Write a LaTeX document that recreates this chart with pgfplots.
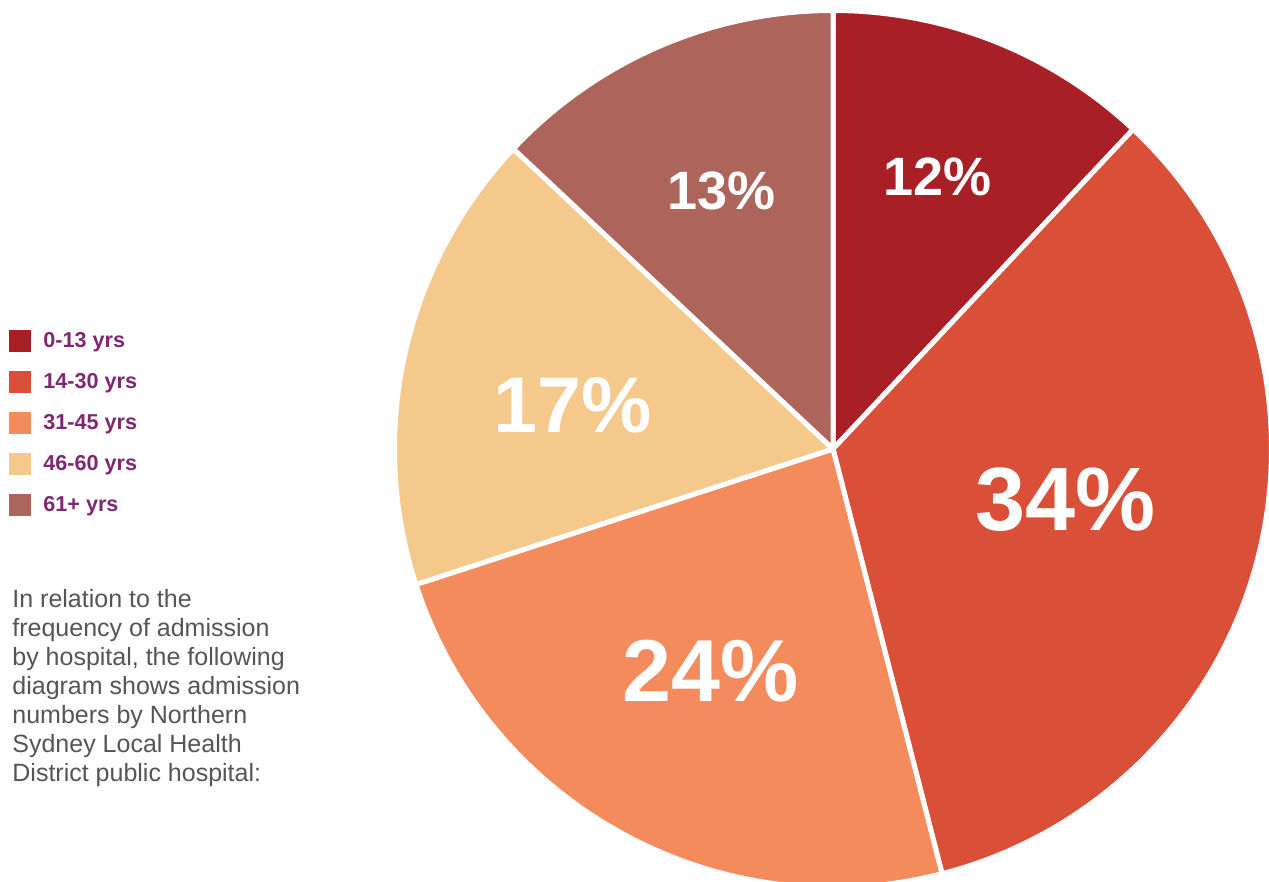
\documentclass[border=0pt]{standalone}
\usepackage{pgfplots}
\usepackage{pgfplotstable}
\pgfplotsset{compat=1.18}
\usepackage{fontspec}
\setmainfont{Liberation Sans}

\definecolor{c0}{HTML}{A82025}
\definecolor{c1}{HTML}{D94F37}
\definecolor{c2}{HTML}{F48B5D}
\definecolor{c3}{HTML}{F5C98C}
\definecolor{c4}{HTML}{AC645B}
\definecolor{legtext}{HTML}{7F2771}
\definecolor{bodytext}{HTML}{555555}

% share of admissions by age group; label radius (px), angle offset, size (pt)
\pgfplotstableread[col sep=comma]{
group,value,lr,ld,fs
0-13 yrs,12,291,0.6,27
14-30 yrs,34,238,2.2,45
31-45 yrs,24,254,0,44
46-60 yrs,17,264,3,39.5
61+ yrs,13,281,0,27
}\agedata

% cumulative wedge angles, clockwise from the top
\gdef\runang{90}
\foreach \i in {0,...,4}{%
  \pgfplotstablegetelem{\i}{value}\of\agedata
  \expandafter\xdef\csname val\i\endcsname{\pgfplotsretval}%
  \pgfmathsetmacro\endang{\runang-3.6*\pgfplotsretval}%
  \pgfplotstablegetelem{\i}{ld}\of\agedata
  \pgfmathsetmacro\midang{(\runang+\endang)/2+\pgfplotsretval}%
  \expandafter\xdef\csname sa\i\endcsname{\runang}%
  \expandafter\xdef\csname ea\i\endcsname{\endang}%
  \expandafter\xdef\csname ma\i\endcsname{\midang}%
  \xdef\runang{\endang}%
  \pgfplotstablegetelem{\i}{lr}\of\agedata
  \expandafter\xdef\csname lr\i\endcsname{\pgfplotsretval}%
  \pgfplotstablegetelem{\i}{fs}\of\agedata
  \expandafter\xdef\csname fs\i\endcsname{\pgfplotsretval}%
  \pgfplotstablegetelem{\i}{group}\of\agedata
  \expandafter\xdef\csname gr\i\endcsname{\pgfplotsretval}%
}

\def\cx{833}
\def\cy{433}
\def\rad{219.25pt}

\begin{document}
\begin{tikzpicture}
\begin{axis}[
  name=ax,
  width=634.5pt, height=441pt,
  scale only axis,
  hide axis,
  xmin=0, xmax=1269,
  ymin=0, ymax=882,
]
\pgfplotsinvokeforeach{0,...,4}{
  \fill[c#1, draw=white, line width=2.5pt, line join=round]
    (axis cs:\cx,\cy) -- ++(\csname sa#1\endcsname:\rad)
    arc[start angle=\csname sa#1\endcsname, end angle=\csname ea#1\endcsname, radius=\rad]
    -- cycle;
}
\pgfplotsinvokeforeach{0,...,4}{
  \node[text=white, font=\bfseries\fontsize{\csname fs#1\endcsname}{\csname fs#1\endcsname}\selectfont]
    at (axis cs:{\cx+\csname lr#1\endcsname*cos(\csname ma#1\endcsname)},{\cy+\csname lr#1\endcsname*sin(\csname ma#1\endcsname)})
    {\csname val#1\endcsname\%};
}
% legend
\pgfplotsinvokeforeach{0,...,4}{
  \fill[c#1] (axis cs:9,{882-330-41*#1}) rectangle (axis cs:31,{882-352-41*#1});
  \node[anchor=west, text=legtext, font=\bfseries\fontsize{10.8}{12}\selectfont, inner sep=0pt]
    at (axis cs:43,{882-342-41*#1}) {\csname gr#1\endcsname};
}
% description
\pgfplotsinvokeforeach{0,...,6}{
  \node[anchor=base west, inner sep=0pt, text=bodytext, font=\fontsize{12.5}{14.5}\selectfont]
    at (axis cs:12,{882-608-29*#1})
    {\ifcase#1 In relation to the\or frequency of admission\or by hospital, the following\or diagram shows admission\or numbers by Northern\or Sydney Local Health\or District public hospital:\fi};
}
\end{axis}
\pgfresetboundingbox
\path (ax.south west) rectangle (ax.north east);
\end{tikzpicture}
\end{document}
